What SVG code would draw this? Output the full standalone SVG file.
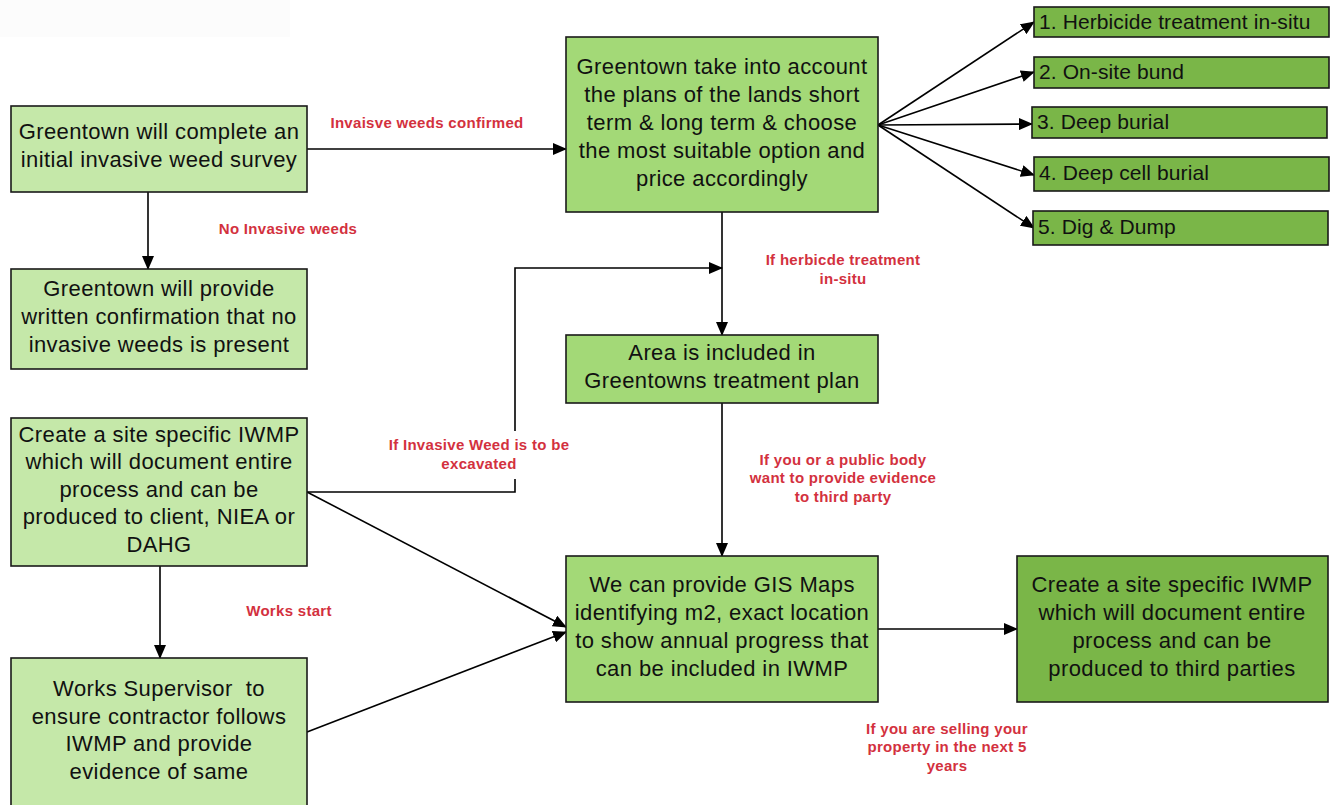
<svg xmlns="http://www.w3.org/2000/svg" width="1336" height="805" viewBox="0 0 1336 805">
<defs>
<marker id="arr" markerUnits="userSpaceOnUse" markerWidth="14" markerHeight="12" refX="13" refY="6" orient="auto">
<path d="M0,0 L14,6 L0,12 Z" fill="#000"/>
</marker>
<style>
.box{stroke:#1a1a1a;stroke-width:1.6}
.l1{fill:#c5e8a9}
.l2{fill:#a3d977}
.l3{fill:#7ab648}
.t{font-family:"Liberation Sans",Arial,sans-serif;font-size:22px;letter-spacing:0.4px;fill:#111;text-anchor:middle}
.o{font-family:"Liberation Sans",Arial,sans-serif;font-size:21px;letter-spacing:0.1px;fill:#111}
.lab{font-family:"Liberation Sans",Arial,sans-serif;font-size:15px;letter-spacing:0.3px;font-weight:bold;fill:#d3313e;text-anchor:middle}
.c{fill:none;stroke:#000;stroke-width:1.6}
</style>
</defs>
<rect x="0" y="0" width="290" height="37" fill="#fcfcfc"/>
<g id="connectors">
<line class="c" x1="307" y1="149" x2="566" y2="149" marker-end="url(#arr)"/>
<line class="c" x1="148" y1="192" x2="148" y2="269" marker-end="url(#arr)"/>
<line class="c" x1="878" y1="125" x2="1034" y2="22" marker-end="url(#arr)"/>
<line class="c" x1="878" y1="125" x2="1034" y2="72" marker-end="url(#arr)"/>
<line class="c" x1="878" y1="125" x2="1032" y2="124" marker-end="url(#arr)"/>
<line class="c" x1="878" y1="125" x2="1034" y2="175" marker-end="url(#arr)"/>
<line class="c" x1="878" y1="125" x2="1034" y2="228" marker-end="url(#arr)"/>
<line class="c" x1="722" y1="212" x2="722" y2="335" marker-end="url(#arr)"/>
<polyline class="c" points="307,492 515,492 515,268 722,268" marker-end="url(#arr)"/>
<line class="c" x1="307" y1="492" x2="566" y2="627" marker-end="url(#arr)"/>
<line class="c" x1="307" y1="732" x2="566" y2="632" marker-end="url(#arr)"/>
<line class="c" x1="160" y1="566" x2="160" y2="658" marker-end="url(#arr)"/>
<line class="c" x1="722" y1="403" x2="722" y2="556" marker-end="url(#arr)"/>
<line class="c" x1="878" y1="629" x2="1017" y2="629" marker-end="url(#arr)"/>
</g>
<g id="labels">
<text class="lab" x="427" y="128">Invaisve weeds confirmed</text>
<text class="lab" x="288" y="234">No Invasive weeds</text>
<text class="lab" x="843" y="265">If herbicde treatment</text>
<text class="lab" x="843" y="284">in-situ</text>
<rect x="388" y="431" width="182" height="48" fill="#fff"/>
<text class="lab" x="479" y="450">If Invasive Weed is to be</text>
<text class="lab" x="479" y="469">excavated</text>
<text class="lab" x="843" y="465">If you or a public body</text>
<text class="lab" x="843" y="483">want to provide evidence</text>
<text class="lab" x="843" y="502">to third party</text>
<text class="lab" x="289" y="616">Works start</text>
<text class="lab" x="947" y="734">If you are selling your</text>
<text class="lab" x="947" y="752">property in the next 5</text>
<text class="lab" x="947" y="771">years</text>
</g>
<g id="survey">
<rect class="box l1" x="11" y="106" width="296" height="86"/>
<text class="t" x="159" y="139">Greentown will complete an</text>
<text class="t" x="159" y="167">initial invasive weed survey</text>
</g>
<g id="no-weeds">
<rect class="box l1" x="11" y="269" width="296" height="100"/>
<text class="t" x="159" y="296">Greentown will provide</text>
<text class="t" x="159" y="324">written confirmation that no</text>
<text class="t" x="159" y="352">invasive weeds is present</text>
</g>
<g id="iwmp-client">
<rect class="box l1" x="11" y="418" width="296" height="148"/>
<text class="t" x="159" y="442">Create a site specific IWMP</text>
<text class="t" x="159" y="469">which will document entire</text>
<text class="t" x="159" y="497">process and can be</text>
<text class="t" x="159" y="524">produced to client, NIEA or</text>
<text class="t" x="159" y="552">DAHG</text>
</g>
<g id="supervisor">
<rect class="box l1" x="11" y="658" width="296" height="150"/>
<text class="t" x="159" y="696" xml:space="preserve">Works Supervisor  to</text>
<text class="t" x="159" y="724">ensure contractor follows</text>
<text class="t" x="159" y="751">IWMP and provide</text>
<text class="t" x="159" y="779">evidence of same</text>
</g>
<g id="choose-option">
<rect class="box l2" x="566" y="37" width="312" height="175"/>
<text class="t" x="722" y="74">Greentown take into account</text>
<text class="t" x="722" y="102">the plans of the lands short</text>
<text class="t" x="722" y="130">term &amp; long term &amp; choose</text>
<text class="t" x="722" y="158">the most suitable option and</text>
<text class="t" x="722" y="186">price accordingly</text>
</g>
<g id="treatment-plan">
<rect class="box l2" x="566" y="335" width="312" height="68"/>
<text class="t" x="722" y="360">Area is included in</text>
<text class="t" x="722" y="388">Greentowns treatment plan</text>
</g>
<g id="gis-maps">
<rect class="box l2" x="566" y="556" width="312" height="146"/>
<text class="t" x="722" y="592">We can provide GIS Maps</text>
<text class="t" x="722" y="620">identifying m2, exact location</text>
<text class="t" x="722" y="648">to show annual progress that</text>
<text class="t" x="722" y="676">can be included in IWMP</text>
</g>
<g id="iwmp-third">
<rect class="box l3" x="1017" y="556" width="311" height="146"/>
<text class="t" x="1172" y="592">Create a site specific IWMP</text>
<text class="t" x="1172" y="620">which will document entire</text>
<text class="t" x="1172" y="648">process and can be</text>
<text class="t" x="1172" y="676">produced to third parties</text>
</g>
<g id="opt1">
<rect class="box l3" x="1034" y="7" width="295" height="30"/>
<text class="o" x="1039" y="29">1. Herbicide treatment in-situ</text>
</g>
<g id="opt2">
<rect class="box l3" x="1034" y="57" width="295" height="31"/>
<text class="o" x="1039" y="79">2. On-site bund</text>
</g>
<g id="opt3">
<rect class="box l3" x="1032" y="107" width="295" height="31"/>
<text class="o" x="1037" y="129">3. Deep burial</text>
</g>
<g id="opt4">
<rect class="box l3" x="1034" y="157" width="295" height="34"/>
<text class="o" x="1039" y="180">4. Deep cell burial</text>
</g>
<g id="opt5">
<rect class="box l3" x="1033" y="211" width="295" height="34"/>
<text class="o" x="1038" y="234">5. Dig &amp; Dump</text>
</g>
</svg>
